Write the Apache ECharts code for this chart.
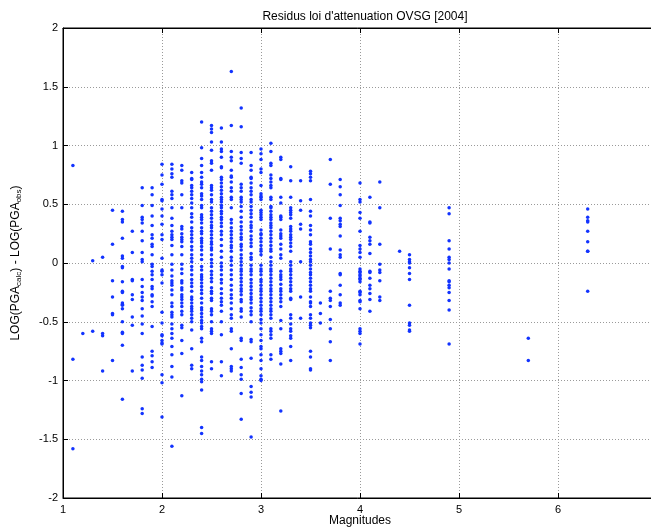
<!DOCTYPE html>
<html>
<head>
<meta charset="utf-8">
<script src="https://cdn.jsdelivr.net/npm/echarts@6/dist/echarts.min.js"></script>
<style>html,body{margin:0;padding:0;background:#fff;}#c{width:651px;height:530px;}</style>
</head>
<body>
<div id="c"></div>
<script>
const titleText = "Residus loi d'attenuation OVSG [2004]";
const xLabel = "Magnitudes";
const xTicks = [1, 2, 3, 4, 5, 6, 7];
const yTicks = [-2, -1.5, -1, -0.5, 0, 0.5, 1, 1.5, 2];

const magnitudes = [1.1, 1.2, 1.3, 1.4, 1.5, 1.6, 1.7, 1.8, 1.9, 2.0, 2.1, 2.2, 2.3, 2.4, 2.5, 2.6, 2.7, 2.8, 2.9, 3.0, 3.1, 3.2, 3.3, 3.4, 3.5, 3.6, 3.7, 3.8, 4.0, 4.1, 4.2, 4.4, 4.5, 4.9, 5.7, 6.3];

const r1_1 = [0.83, -0.82, -1.58];
const r1_2 = [-0.60];
const r1_3 = [0.02, -0.58];
const r1_4 = [0.05, -0.60, -0.62, -0.92];
const r1_5 = [0.45, 0.16, -0.15, -0.29, -0.43, -0.44, -0.83];
const r1_6 = [0.44, 0.37, 0.35, 0.21, 0.06, 0.04, -0.03, -0.04, -0.16, -0.24, -0.25, -0.34, -0.35, -0.36, -0.39, -0.50, -0.59, -0.60, -0.70, -1.16];
const r1_7 = [0.27, 0.09, -0.14, -0.15, -0.27, -0.31, -0.46, -0.53, -0.92];
const r1_8 = [0.64, 0.49, 0.39, 0.37, 0.34, 0.27, 0.19, 0.09, 0.03, 0.01, -0.14, -0.20, -0.25, -0.29, -0.32, -0.39, -0.45, -0.52, -0.60, -0.80, -0.87, -0.91, -0.98, -1.24, -1.28];
const r1_9 = [0.64, 0.58, 0.49, 0.40, 0.32, 0.24, 0.21, 0.16, 0.14, 0.07, -0.01, -0.03, -0.07, -0.10, -0.14, -0.20, -0.22, -0.27, -0.28, -0.33, -0.37, -0.54, -0.75, -0.79, -0.84, -0.89];
const r2_0 = [0.84, 0.75, 0.67, 0.54, 0.53, 0.46, 0.40, 0.33, 0.24, 0.20, 0.04, -0.06, -0.07, -0.10, -0.17, -0.42, -0.51, -0.61, -0.62, -0.66, -0.68, -0.69, -0.95, -1.02, -1.31];
const r2_1 = [0.84, 0.80, 0.76, 0.73, 0.61, 0.58, 0.55, 0.47, 0.38, 0.32, 0.27, 0.24, 0.22, 0.20, 0.15, 0.07, -0.01, -0.06, -0.11, -0.15, -0.17, -0.19, -0.23, -0.27, -0.34, -0.37, -0.42, -0.44, -0.46, -0.52, -0.56, -0.60, -0.64, -0.71, -0.78, -0.88, -0.97, -1.56];
const r2_2 = [0.83, 0.79, 0.70, 0.68, 0.58, 0.47, 0.31, 0.29, 0.25, 0.22, 0.20, 0.18, 0.14, 0.07, -0.01, -0.05, -0.09, -0.15, -0.17, -0.21, -0.23, -0.27, -0.29, -0.31, -0.34, -0.37, -0.41, -0.44, -0.53, -0.55, -0.66, -0.77, -1.13];
const r2_3 = [0.77, 0.72, 0.71, 0.66, 0.64, 0.61, 0.58, 0.55, 0.51, 0.47, 0.42, 0.39, 0.35, 0.30, 0.27, 0.24, 0.21, 0.18, 0.14, 0.11, 0.07, 0.04, 0.01, -0.03, -0.06, -0.10, -0.14, -0.17, -0.20, -0.24, -0.29, -0.31, -0.34, -0.37, -0.39, -0.41, -0.44, -0.47, -0.50, -0.57, -0.73, -0.87, -0.90];
const r2_4 = [1.20, 0.98, 0.89, 0.83, 0.77, 0.73, 0.69, 0.67, 0.64, 0.59, 0.57, 0.54, 0.49, 0.47, 0.41, 0.39, 0.37, 0.34, 0.30, 0.27, 0.25, 0.21, 0.19, 0.17, 0.14, 0.11, 0.07, 0.03, -0.03, -0.06, -0.10, -0.12, -0.14, -0.17, -0.20, -0.23, -0.26, -0.30, -0.34, -0.38, -0.40, -0.43, -0.46, -0.49, -0.51, -0.54, -0.56, -0.64, -0.67, -0.80, -0.83, -0.88, -0.92, -0.95, -0.99, -1.01, -1.08, -1.40, -1.45];
const r2_5 = [1.17, 1.14, 1.11, 1.03, 0.96, 0.87, 0.85, 0.79, 0.66, 0.64, 0.62, 0.58, 0.54, 0.52, 0.47, 0.44, 0.41, 0.38, 0.35, 0.32, 0.30, 0.27, 0.24, 0.21, 0.18, 0.16, 0.13, 0.11, 0.07, 0.03, 0.00, -0.03, -0.07, -0.10, -0.13, -0.16, -0.21, -0.24, -0.26, -0.30, -0.32, -0.39, -0.41, -0.44, -0.50, -0.56, -0.58, -0.60, -0.84, -0.90];
const r2_6 = [1.15, 1.03, 0.97, 0.95, 0.90, 0.82, 0.81, 0.73, 0.71, 0.68, 0.65, 0.62, 0.59, 0.56, 0.54, 0.52, 0.49, 0.47, 0.44, 0.42, 0.39, 0.37, 0.34, 0.31, 0.27, 0.24, 0.20, 0.15, 0.10, 0.05, 0.00, -0.03, -0.06, -0.10, -0.14, -0.17, -0.22, -0.26, -0.30, -0.33, -0.36, -0.41, -0.50, -0.61, -0.84, -0.96];
const r2_7 = [1.63, 1.17, 0.95, 0.90, 0.87, 0.79, 0.74, 0.73, 0.69, 0.64, 0.61, 0.56, 0.54, 0.47, 0.37, 0.34, 0.30, 0.27, 0.24, 0.21, 0.18, 0.15, 0.13, 0.10, 0.05, 0.02, -0.02, -0.06, -0.10, -0.14, -0.19, -0.23, -0.27, -0.30, -0.34, -0.39, -0.44, -0.47, -0.56, -0.58, -0.73, -0.88, -0.90, -0.92];
const r2_8 = [1.32, 1.16, 0.94, 0.89, 0.85, 0.67, 0.64, 0.61, 0.56, 0.54, 0.52, 0.48, 0.44, 0.39, 0.35, 0.31, 0.28, 0.25, 0.22, 0.20, 0.16, 0.14, 0.11, 0.07, 0.04, 0.01, -0.02, -0.05, -0.07, -0.10, -0.13, -0.16, -0.19, -0.22, -0.24, -0.27, -0.31, -0.33, -0.39, -0.41, -0.46, -0.64, -0.66, -0.82, -0.89, -0.95, -0.99, -1.11, -1.33];
const r2_9 = [0.94, 0.83, 0.79, 0.73, 0.72, 0.68, 0.64, 0.61, 0.58, 0.54, 0.52, 0.48, 0.45, 0.42, 0.39, 0.35, 0.32, 0.30, 0.27, 0.23, 0.20, 0.17, 0.14, 0.08, 0.05, 0.03, -0.02, -0.05, -0.07, -0.10, -0.14, -0.17, -0.20, -0.23, -0.26, -0.29, -0.31, -0.34, -0.38, -0.41, -0.44, -0.50, -0.65, -0.67, -0.81, -1.05, -1.10, -1.14, -1.48];
const r3_0 = [0.97, 0.93, 0.88, 0.80, 0.77, 0.66, 0.59, 0.57, 0.56, 0.54, 0.45, 0.43, 0.41, 0.39, 0.37, 0.28, 0.25, 0.24, 0.21, 0.18, 0.15, 0.12, 0.10, 0.07, -0.02, -0.05, -0.07, -0.10, -0.14, -0.16, -0.19, -0.22, -0.24, -0.27, -0.30, -0.33, -0.36, -0.39, -0.41, -0.44, -0.48, -0.51, -0.56, -0.61, -0.66, -0.71, -0.73, -0.78, -0.83, -0.90, -0.96, -0.99, -1.00];
const r3_1 = [1.02, 0.95, 0.85, 0.83, 0.75, 0.72, 0.69, 0.66, 0.64, 0.56, 0.54, 0.48, 0.47, 0.44, 0.41, 0.39, 0.37, 0.34, 0.32, 0.30, 0.27, 0.24, 0.21, 0.18, 0.15, 0.12, 0.10, 0.05, 0.01, -0.02, -0.05, -0.07, -0.10, -0.13, -0.16, -0.19, -0.22, -0.24, -0.27, -0.30, -0.33, -0.36, -0.39, -0.41, -0.44, -0.47, -0.56, -0.58, -0.61, -0.64, -0.78, -0.82];
const r3_2 = [0.90, 0.88, 0.72, 0.71, 0.56, 0.51, 0.40, 0.39, 0.37, 0.28, 0.25, 0.23, 0.21, 0.16, 0.12, 0.07, 0.04, -0.07, -0.10, -0.12, -0.14, -0.18, -0.22, -0.24, -0.27, -0.30, -0.33, -0.37, -0.49, -0.56, -0.73, -0.75, -0.77, -0.86, -1.26];
const r3_3 = [0.82, 0.70, 0.56, 0.47, 0.45, 0.43, 0.41, 0.38, 0.31, 0.29, 0.27, 0.24, 0.22, 0.20, 0.17, 0.14, 0.10, 0.01, -0.02, -0.05, -0.07, -0.10, -0.13, -0.16, -0.19, -0.22, -0.24, -0.30, -0.31, -0.44, -0.47, -0.52, -0.56, -0.58, -0.62, -0.64, -0.71, -0.83];
const r3_4 = [0.70, 0.53, 0.45, 0.33, 0.29, 0.01, -0.29, -0.47];
const r3_5 = [0.78, 0.76, 0.73, 0.70, 0.54, 0.44, 0.40, 0.32, 0.28, 0.24, 0.18, 0.16, 0.12, 0.09, 0.06, 0.03, 0.01, -0.02, -0.05, -0.08, -0.10, -0.13, -0.16, -0.19, -0.22, -0.24, -0.29, -0.33, -0.34, -0.37, -0.44, -0.47, -0.51, -0.53, -0.55, -0.75, -0.80, -0.90, -0.91];
const r3_6 = [-0.34, -0.43, -0.51];
const r3_7 = [0.88, 0.67, 0.38, 0.12, -0.24, -0.30, -0.32, -0.37, -0.48, -0.56, -0.67, -0.83];
const r3_8 = [0.71, 0.65, 0.58, 0.49, 0.38, 0.36, 0.33, 0.31, 0.23, 0.11, 0.07, 0.05, -0.09, -0.10, -0.19, -0.27, -0.34, -0.36];
const r4_0 = [0.68, 0.54, 0.52, 0.43, 0.38, 0.27, 0.15, 0.12, 0.09, 0.05, -0.05, -0.07, -0.08, -0.10, -0.11, -0.13, -0.14, -0.16, -0.24, -0.25, -0.27, -0.32, -0.33, -0.39, -0.56, -0.58, -0.60, -0.69];
const r4_1 = [0.56, 0.35, 0.34, 0.22, 0.19, 0.16, 0.08, -0.07, -0.08, -0.13, -0.19, -0.22, -0.26, -0.31, -0.41];
const r4_2 = [0.69, 0.47, 0.16, -0.01, -0.06, -0.08, -0.15, -0.29, -0.32];
const r4_4 = [0.10];
const r4_5 = [0.07, 0.03, 0.01, 0.00, -0.04, -0.09, -0.14, -0.36, -0.51, -0.53, -0.57, -0.58];
const r4_9 = [0.47, 0.42, 0.19, 0.12, 0.05, 0.03, 0.00, -0.05, -0.15, -0.16, -0.19, -0.21, -0.25, -0.32, -0.40, -0.69];
const r5_7 = [-0.64, -0.83];
const r6_3 = [0.46, 0.39, 0.36, 0.35, 0.27, 0.18, 0.10, 0.10, -0.24];

const residuals = [r1_1, r1_2, r1_3, r1_4, r1_5, r1_6, r1_7, r1_8, r1_9, r2_0, r2_1, r2_2, r2_3, r2_4, r2_5, r2_6, r2_7, r2_8, r2_9, r3_0, r3_1, r3_2, r3_3, r3_4, r3_5, r3_6, r3_7, r3_8, r4_0, r4_1, r4_2, r4_4, r4_5, r4_9, r5_7, r6_3];

const points = [];
magnitudes.forEach((m, i) => residuals[i].forEach(r => points.push([m, r])));

const FONT = 'Liberation Sans, Arial, Helvetica, sans-serif';
const chart = echarts.init(document.getElementById('c'), null, {renderer: 'canvas'});
chart.setOption({
  animation: false,
  backgroundColor: '#ffffff',
  title: {
    text: titleText,
    left: 360, top: 6, textAlign: 'center',
    textStyle: {fontFamily: FONT, fontSize: 12, fontWeight: 'normal', color: '#000'}
  },
  grid: {left: 63, top: 28, width: 594, height: 470, show: true, borderColor: '#000', borderWidth: 1, backgroundColor: '#fff', outerBoundsMode: 'none', containLabel: false},
  xAxis: [{
    type: 'value', min: xTicks[0], max: xTicks[xTicks.length - 1], interval: 1,
    name: xLabel, nameLocation: 'middle', nameGap: 17, nameMoveOverlap: false,
    nameTextStyle: {fontFamily: FONT, fontSize: 12, color: '#000'},
    axisLine: {show: true, onZero: false, lineStyle: {color: '#000', width: 1}},
    axisTick: {show: true, inside: true, length: 5, lineStyle: {color: '#000'}},
    axisLabel: {fontFamily: FONT, fontSize: 11, color: '#000', margin: 6},
    splitLine: {show: true, lineStyle: {color: '#9a9a9a', type: [1, 2], width: 1}}
  }, {
    type: 'value', position: 'top', min: xTicks[0], max: xTicks[xTicks.length - 1], interval: 1,
    axisLine: {show: true, onZero: false, lineStyle: {color: '#000'}},
    axisTick: {show: true, inside: true, length: 5, lineStyle: {color: '#000'}},
    axisLabel: {show: false}, splitLine: {show: false}
  }],
  yAxis: [{
    type: 'value', min: yTicks[0], max: yTicks[yTicks.length - 1], interval: 0.5,
    name: '{n|LOG(PGA}{s|calc}{n|) - LOG(PGA}{s|obs}{n|)}',
    nameLocation: 'middle', nameGap: 40, nameRotate: 90, nameMoveOverlap: false,
    nameTextStyle: {
      fontFamily: FONT, fontSize: 12, color: '#000',
      rich: {
        n: {fontFamily: FONT, fontSize: 12, color: '#000', lineHeight: 14},
        s: {fontFamily: FONT, fontSize: 8, color: '#000', lineHeight: 14, verticalAlign: 'bottom', padding: [6, 0, 0, 0]}
      }
    },
    axisLine: {show: true, onZero: false, lineStyle: {color: '#000'}},
    axisTick: {show: true, inside: true, length: 5, lineStyle: {color: '#000'}},
    axisLabel: {fontFamily: FONT, fontSize: 11, color: '#000', margin: 5, formatter: v => String(v)},
    splitLine: {show: true, lineStyle: {color: '#9a9a9a', type: [1, 2], width: 1}}
  }],
  series: [{
    type: 'scatter',
    data: points,
    symbol: 'circle',
    symbolSize: 3.5,
    itemStyle: {color: '#1233ff', opacity: 1},
    silent: true
  }]
});
</script>
</body>
</html>
